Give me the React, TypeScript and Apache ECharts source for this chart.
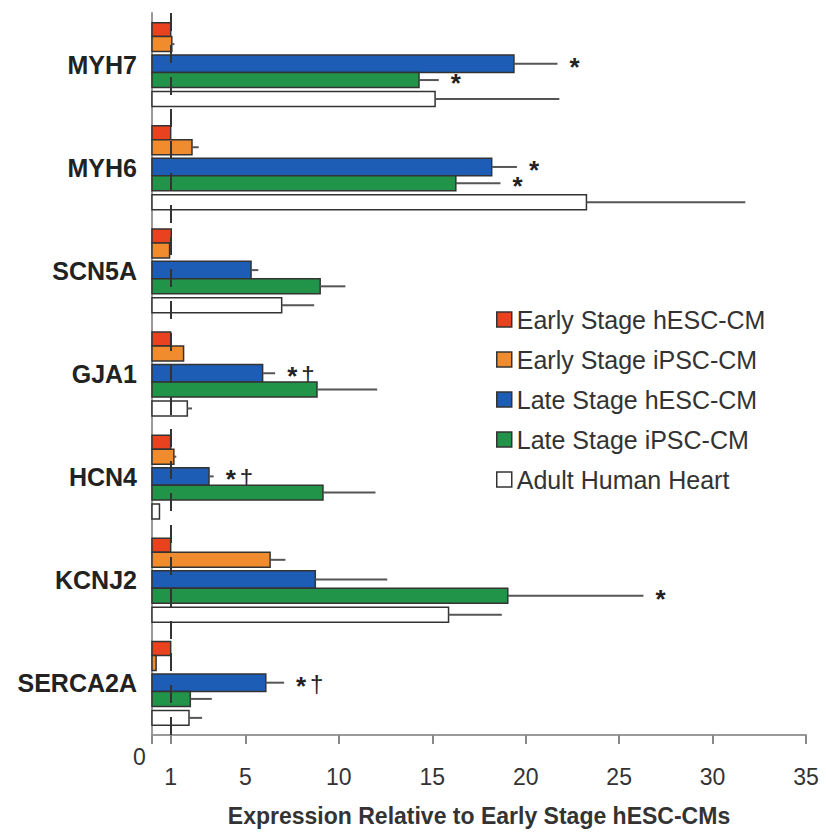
import React, { useEffect, useRef } from "react";
import * as echarts from "echarts";

// ---- data ----
const genes = ["MYH7", "MYH6", "SCN5A", "GJA1", "HCN4", "KCNJ2", "SERCA2A"];
const seriesNames = [
  "Early Stage hESC-CM",
  "Early Stage iPSC-CM",
  "Late Stage hESC-CM",
  "Late Stage iPSC-CM",
  "Adult Human Heart",
];
const earlyHesc = [1.0, 1.0, 1.03, 1.0, 1.0, 1.0, 1.0];
const earlyHescErr = [null, null, null, null, null, null, null];
const earlyIpsc = [1.06, 2.14, 0.94, 1.69, 1.17, 6.32, 0.22];
const earlyIpscErr = [1.2, 2.5, null, null, 1.3, 7.14, null];
const lateHesc = [19.37, 18.18, 5.3, 5.92, 3.05, 8.74, 6.09];
const lateHescErr = [21.7, 19.53, 5.69, 6.59, 3.3, 12.59, 7.07];
const lateIpsc = [14.29, 16.26, 9.0, 8.83, 9.15, 19.04, 2.05];
const lateIpscErr = [15.35, 18.65, 10.35, 12.05, 11.96, 26.3, 3.2];
const adult = [15.15, 23.25, 6.94, 1.89, 0.4, 15.87, 1.98];
const adultErr = [21.8, 31.75, 8.68, 2.14, null, 18.72, 2.68];

const noMarks = ["", "", "", "", "", "", ""];
const lateHescMarks = ["*", "*", "", "*†", "*†", "", "*†"];
const lateIpscMarks = ["*", "*", "", "", "", "*", ""];

const xTicks = [0, 1, 5, 10, 15, 20, 25, 30, 35];
const xLabels = [1, 5, 10, 15, 20, 25, 30, 35];
const referenceLine = 1;

// ---- styles / layout ----
const colors = ["#E8421F", "#F08C2D", "#1E5DB5", "#22944A", "#FFFFFF"];
// bar slots within a category band (fractions of band height, relative to center)
const slots = [
  [-42, -28],
  [-28, -13],
  [-9.5, 8],
  [8, 23],
  [27, 42],
].map(([a, b]) => [a / 103.3, b / 103.3]);

const values = [earlyHesc, earlyIpsc, lateHesc, lateIpsc, adult];
const errs = [earlyHescErr, earlyIpscErr, lateHescErr, lateIpscErr, adultErr];
const marks = [noMarks, noMarks, lateHescMarks, lateIpscMarks, noMarks];

const FONT = "'Liberation Sans', Arial, Helvetica, sans-serif";

function makeSeries(i: number) {
  const vals = values[i];
  const errArr = errs[i];
  const markArr = marks[i];
  const slot = slots[i];
  return {
    type: "custom",
    name: seriesNames[i],
    itemStyle: { color: colors[i], borderColor: "#333", borderWidth: 1.5 },
    data: vals.map((v, k) => [v, k]),
    encode: { x: 0, y: 1 },
    z: 2,
    renderItem: (params: any, api: any) => {
      const k = params.dataIndex;
      const val = api.value(0);
      const cat = api.value(1);
      const band = api.size([0, 1])[1];
      const base = api.coord([0, cat]);
      const x0 = base[0];
      const yc = base[1];
      const x1 = api.coord([val, cat])[0];
      const top = yc + slot[0] * band;
      const h = (slot[1] - slot[0]) * band;
      const mid = top + h / 2;
      const children: any[] = [
        {
          type: "rect",
          shape: { x: x0, y: top, width: x1 - x0, height: h },
          style: { fill: colors[i], stroke: "#333", lineWidth: 1.5 },
        },
      ];
      let endX = x1;
      const e = errArr[k];
      if (e != null) {
        const xe = api.coord([e, cat])[0];
        endX = xe;
        children.push({
          type: "line",
          shape: { x1: x1, y1: mid, x2: xe, y2: mid },
          style: { stroke: "#555", lineWidth: 2 },
        });
      }
      const m = markArr[k];
      if (m) {
        children.push({
          type: "text",
          style: {
            text: "*",
            x: endX + 12,
            y: mid + 3,
            fontSize: 26,
            fontWeight: "bold",
            fontFamily: FONT,
            fill: "#222",
            align: "left",
            verticalAlign: "middle",
          },
        });
        if (m.indexOf("†") >= 0) {
          children.push({
            type: "text",
            style: {
              text: "†",
              x: endX + 26,
              y: mid + 1,
              fontSize: 24,
              fontFamily: FONT,
              fill: "#222",
              align: "left",
              verticalAlign: "middle",
            },
          });
        }
      }
      return { type: "group", children };
    },
  };
}

export default function App() {
  const ref = useRef<HTMLDivElement>(null);
  useEffect(() => {
    document.body.style.margin = "0";
    const chart = echarts.init(ref.current!, null, { renderer: "svg" });
    const option: any = {
      animation: false,
      backgroundColor: "#ffffff",
      grid: { left: 152, right: 20, top: 13, bottom: 96 },
      xAxis: {
        type: "value",
        min: 0,
        max: 35,
        name: "Expression Relative to Early Stage hESC-CMs",
        nameLocation: "middle",
        nameGap: 69,
        nameTextStyle: {
          fontSize: 23,
          fontWeight: "bold",
          color: "#333",
          fontFamily: FONT,
        },
        axisLine: { show: true, lineStyle: { color: "#999", width: 2 } },
        axisTick: {
          show: true,
          length: 9,
          customValues: xTicks,
          lineStyle: { color: "#888", width: 2 },
        },
        axisLabel: {
          customValues: xLabels,
          margin: 30,
          fontSize: 23,
          color: "#333",
          fontFamily: FONT,
        },
        splitLine: { show: false },
      },
      yAxis: {
        type: "category",
        data: genes,
        inverse: true,
        axisLine: { show: true, lineStyle: { color: "#999", width: 2 } },
        axisTick: { show: false },
        axisLabel: {
          fontSize: 25,
          fontWeight: "bold",
          color: "#222",
          margin: 15,
          fontFamily: FONT,
        },
        splitLine: { show: false },
      },
      legend: {
        orient: "vertical",
        left: 491,
        top: 302,
        itemWidth: 15,
        itemHeight: 15,
        itemGap: 15,
        icon: "rect",
        textStyle: {
          fontSize: 25,
          lineHeight: 24,
          color: "#333",
          fontFamily: FONT,
        },
        data: seriesNames.map((n, i) => ({
          name: n,
          itemStyle: { color: colors[i], borderColor: "#333", borderWidth: 1.5 },
        })),
      },
      graphic: [
        {
          type: "text",
          left: 133,
          top: 745,
          style: { text: "0", fontSize: 23, fill: "#333", fontFamily: FONT },
        },
      ],
      series: [
        ...[0, 1, 2, 3, 4].map((i) => makeSeries(i)),
        {
          type: "line",
          data: [],
          silent: true,
          z: 10,
          markLine: {
            silent: true,
            symbol: ["none", "none"],
            label: { show: false },
            lineStyle: { color: "#333", width: 2, type: [18, 14] },
            data: [{ xAxis: referenceLine }],
          },
        },
      ],
    };
    chart.setOption(option);
    return () => chart.dispose();
  }, []);
  return <div ref={ref} style={{ width: 826, height: 832 }} />;
}
